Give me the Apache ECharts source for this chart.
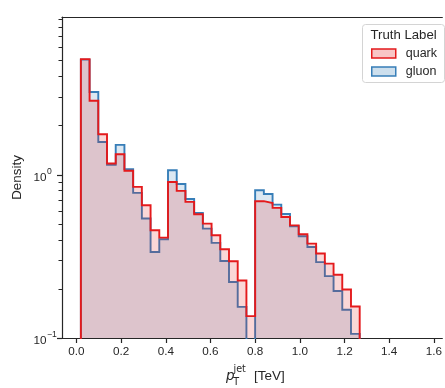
<!DOCTYPE html>
<html>
<head>
<meta charset="utf-8">
<script src="https://cdn.jsdelivr.net/npm/echarts@6/dist/echarts.min.js"></script>
<style>
  html, body { margin: 0; padding: 0; background: #fff; }
  #chart { width: 445px; height: 388px; }
</style>
</head>
<body>
<div id="chart"></div>
<script>
// Histogram bin edges (TeV), 32 bins
const binEdges = [0.020, 0.059, 0.098, 0.137, 0.176, 0.215, 0.254, 0.293, 0.332, 0.371,
                  0.410, 0.449, 0.488, 0.527, 0.566, 0.605, 0.644, 0.683, 0.722, 0.761,
                  0.800, 0.839, 0.878, 0.917, 0.956, 0.995, 1.034, 1.073, 1.112, 1.151,
                  1.190, 1.229, 1.268];

// Density per bin
const quarkDensity = [5.08, 2.83, 1.765, 1.168, 1.331, 1.055, 0.840, 0.649, 0.456, 0.411,
                      0.901, 0.794, 0.680, 0.571, 0.501, 0.425, 0.349, 0.295, 0.225, 0.136,
                      0.687, 0.670, 0.625, 0.550, 0.489, 0.431, 0.378, 0.329, 0.285, 0.244,
                      0.198, 0.156];
const gluonDensity = [5.05, 3.20, 1.583, 1.146, 1.518, 1.080, 0.772, 0.538, 0.336, 0.402,
                      1.062, 0.876, 0.709, 0.582, 0.467, 0.382, 0.296, 0.220, 0.155, 0,
                      0.802, 0.761, 0.655, 0.574, 0.483, 0.419, 0.360, 0.291, 0.239, 0.194,
                      0.149, 0.106];

const xTicks = [0, 0.2, 0.4, 0.6, 0.8, 1.0, 1.2, 1.4, 1.6];
const yMajorTicks = [0.1, 1];
const yMajorExponents = ['\u22121', '0'];
const yMinorTicks = [0.2, 0.3, 0.4, 0.5, 0.6, 0.7, 0.8, 0.9, 2, 3, 4, 5, 6, 7, 8, 9];

const seriesNames = ['quark', 'gluon'];
const lineColors = { quark: '#e41a1c', gluon: '#377eb8' };
const fillColors = { quark: 'rgba(228,26,28,0.25)', gluon: 'rgba(55,126,184,0.25)' };

const INK = '#262626';
const FONT = '"Liberation Sans", Arial, sans-serif';
const MATH_FONT = '"DejaVu Sans", sans-serif';
// empty bins sit below the visible log range and are clipped by the grid
const FLOOR = 1e-3;
// visible x window; the frame continues past the right edge of the canvas
const X_MIN = -0.06444, X_MAX = 1.63778;

function stepPoints(values) {
  const last = binEdges.length - 1;
  const pts = [[binEdges[0], FLOOR]];
  values.forEach((v, i) => pts.push([binEdges[i], v > 0 ? v : FLOOR]));
  const lv = values[values.length - 1];
  pts.push([binEdges[last], lv > 0 ? lv : FLOOR]);
  pts.push([binEdges[last], FLOOR]);
  return pts;
}

function histSeries(name, values, z) {
  return {
    name: name,
    type: 'line',
    step: 'end',
    data: stepPoints(values),
    showSymbol: false,
    symbol: 'none',
    clip: true,
    z: z,
    lineStyle: { color: lineColors[name], width: 1.9, join: 'miter' },
    itemStyle: { color: lineColors[name] },
    areaStyle: { color: fillColors[name], origin: 'start' },
    emphasis: { disabled: true }
  };
}

const spine = { show: true, onZero: false, lineStyle: { color: INK, width: 1.2 } };

const chart = echarts.init(document.getElementById('chart'), null, { renderer: 'canvas' });

chart.setOption({
  animation: false,
  textStyle: { fontFamily: FONT },
  grid: { left: 62, top: 17, right: 0, bottom: 50, show: false },
  xAxis: [{
    type: 'value',
    position: 'bottom',
    min: X_MIN,
    max: X_MAX,
    axisLine: spine,
    splitLine: { show: false },
    axisTick: {
      show: true, customValues: xTicks, length: 5,
      lineStyle: { color: INK, width: 1.2 }
    },
    axisLabel: {
      show: true, customValues: xTicks, margin: 8,
      formatter: v => Number(v).toFixed(1),
      fontSize: 11.7, color: INK, fontFamily: FONT
    }
  }, {
    // top frame line
    type: 'value',
    position: 'top',
    min: X_MIN,
    max: X_MAX,
    axisLine: spine,
    axisTick: { show: false },
    axisLabel: { show: false },
    splitLine: { show: false }
  }],
  yAxis: {
    type: 'log',
    logBase: 10,
    position: 'left',
    min: 0.1,
    max: 9.2,
    name: 'Density',
    nameLocation: 'middle',
    nameGap: 38,
    nameTextStyle: { fontSize: 13.4, color: INK, fontFamily: FONT },
    axisLine: spine,
    axisTick: { show: false },
    axisLabel: { show: false },
    splitLine: { show: false },
    minorTick: { show: false }
  },
  legend: {
    orient: 'vertical',
    left: 371,
    top: 47,
    padding: 0,
    itemWidth: 24,
    itemHeight: 9,
    itemGap: 5,
    selectedMode: false,
    z: 6,
    textStyle: { fontSize: 12.5, color: INK, fontFamily: FONT, padding: [0, 0, 0, 5] },
    data: seriesNames.map(n => ({
      name: n,
      icon: 'rect',
      itemStyle: { color: fillColors[n], borderColor: lineColors[n], borderWidth: 1.5 }
    }))
  },
  series: [
    histSeries('gluon', gluonDensity, 2),
    histSeries('quark', quarkDensity, 3)
  ]
});

// Log-axis ticks, labels, axis title and legend frame
const graphics = [];
const axisX = chart.convertToPixel({ xAxisIndex: 0 }, X_MIN);

yMajorTicks.forEach((v, i) => {
  const y = Math.round(chart.convertToPixel({ yAxisIndex: 0 }, v)) + 0.5;
  graphics.push({
    type: 'line', silent: true, z: 10,
    shape: { x1: axisX - 5, y1: y, x2: axisX, y2: y },
    style: { stroke: INK, lineWidth: 1.2 }
  });
  graphics.push({
    type: 'text', silent: true, z: 10,
    x: 46.5, y: y + 2.5,
    style: { text: '10', fill: INK, font: '11.7px ' + FONT, align: 'right', verticalAlign: 'middle' }
  });
  graphics.push({
    type: 'text', silent: true, z: 10,
    x: 47, y: y - 3.5,
    style: { text: yMajorExponents[i], fill: INK, font: '8.6px ' + FONT, align: 'left', verticalAlign: 'middle' }
  });
});

yMinorTicks.forEach(v => {
  const y = Math.round(chart.convertToPixel({ yAxisIndex: 0 }, v)) + 0.5;
  graphics.push({
    type: 'line', silent: true, z: 10,
    shape: { x1: axisX - 3.5, y1: y, x2: axisX, y2: y },
    style: { stroke: INK, lineWidth: 1 }
  });
});

// x-axis title: p_T^jet [TeV]
graphics.push(
  { type: 'text', silent: true, z: 10, x: 226, y: 376,
    style: { text: 'p', font: 'italic 13.5px ' + MATH_FONT, fill: INK, align: 'left', verticalAlign: 'middle' } },
  { type: 'text', silent: true, z: 10, x: 233.5, y: 369.5,
    style: { text: 'jet', font: '9.6px ' + MATH_FONT, fill: INK, align: 'left', verticalAlign: 'middle' } },
  { type: 'text', silent: true, z: 10, x: 233.2, y: 382,
    style: { text: 'T', font: '9.6px ' + MATH_FONT, fill: INK, align: 'left', verticalAlign: 'middle' } },
  { type: 'text', silent: true, z: 10, x: 254, y: 376,
    style: { text: '[TeV]', font: '13.5px ' + FONT, fill: INK, align: 'left', verticalAlign: 'middle' } }
);

// legend frame and title
graphics.push(
  { type: 'rect', silent: true, z: 4,
    shape: { x: 362.5, y: 24.5, width: 82, height: 58, r: 3 },
    style: { fill: 'rgba(255,255,255,0.8)', stroke: '#d4d4d4', lineWidth: 1 } },
  { type: 'text', silent: true, z: 7, x: 370.5, y: 35,
    style: { text: 'Truth Label', font: '13.2px ' + FONT, fill: INK, align: 'left', verticalAlign: 'middle' } }
);

chart.setOption({ graphic: graphics });
</script>
</body>
</html>
